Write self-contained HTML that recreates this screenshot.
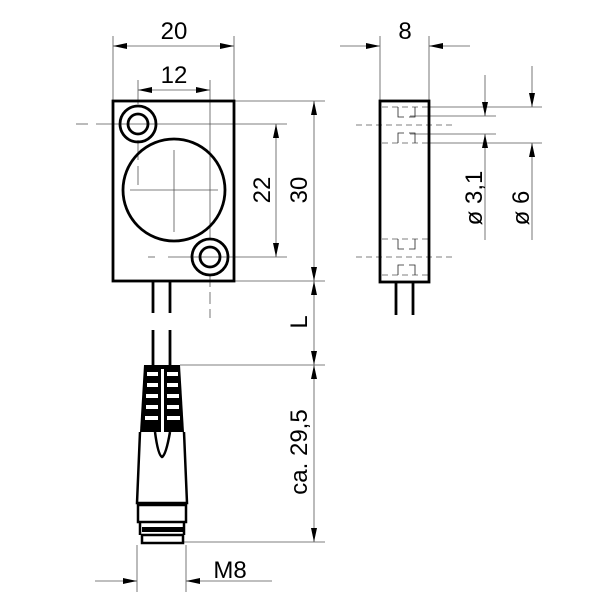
<!DOCTYPE html>
<html><head><style>html,body{margin:0;padding:0;background:#fff}svg{display:block}</style></head><body>
<svg width="600" height="600" viewBox="0 0 600 600" xmlns="http://www.w3.org/2000/svg" font-family="Liberation Sans, sans-serif">
<defs>
<marker id="a" viewBox="0 0 14 6" refX="14" refY="3" markerWidth="14" markerHeight="6" orient="auto-start-reverse" markerUnits="userSpaceOnUse"><path d="M0,0 L14,3 L0,6z" fill="#000"/></marker>
</defs>
<g stroke="#555" stroke-width="0.8" fill="none">
<line x1="113" y1="36" x2="113" y2="101"/><line x1="234" y1="36" x2="234" y2="101"/>
<line x1="138" y1="80" x2="138" y2="104"/><line x1="210" y1="80" x2="210" y2="240"/>
<line x1="210" y1="275" x2="210" y2="318" stroke-dasharray="12,5"/>
<line x1="234" y1="101" x2="325" y2="101"/><line x1="234" y1="281" x2="325" y2="281"/>
<line x1="76" y1="124" x2="88" y2="124"/><line x1="96" y1="124" x2="287" y2="124"/>
<line x1="148" y1="257" x2="155" y2="257"/><line x1="168" y1="257" x2="287" y2="257"/>
<line x1="138" y1="140" x2="138" y2="185" stroke-dasharray="20,6"/>
<line x1="130" y1="190" x2="218" y2="190"/><line x1="174" y1="150" x2="174" y2="232"/>
<line x1="180" y1="365" x2="325" y2="365"/><line x1="183" y1="542" x2="325" y2="542"/>
<line x1="137" y1="545" x2="137" y2="592"/><line x1="186" y1="545" x2="186" y2="592"/>
<line x1="113" y1="46" x2="234" y2="46" marker-start="url(#a)" marker-end="url(#a)"/>
<line x1="138" y1="90" x2="210" y2="90" marker-start="url(#a)" marker-end="url(#a)"/>
<line x1="276" y1="124" x2="276" y2="257" marker-start="url(#a)" marker-end="url(#a)"/>
<line x1="314" y1="101" x2="314" y2="281" marker-start="url(#a)" marker-end="url(#a)"/>
<line x1="314" y1="281" x2="314" y2="365" marker-start="url(#a)" marker-end="url(#a)"/>
<line x1="314" y1="365" x2="314" y2="542" marker-start="url(#a)" marker-end="url(#a)"/>
<line x1="95" y1="581" x2="137" y2="581" marker-end="url(#a)"/>
<line x1="272" y1="581" x2="186" y2="581" marker-end="url(#a)"/>
<line x1="380" y1="36" x2="380" y2="101"/><line x1="429" y1="36" x2="429" y2="101"/>
<line x1="340" y1="46" x2="380" y2="46" marker-end="url(#a)"/>
<line x1="470" y1="46" x2="429" y2="46" marker-end="url(#a)"/>
<line x1="429" y1="107" x2="542" y2="107"/><line x1="429" y1="143" x2="542" y2="143"/>
<line x1="410" y1="116" x2="496" y2="116"/><line x1="410" y1="134" x2="496" y2="134"/>
<line x1="485" y1="75" x2="485" y2="116" marker-end="url(#a)"/>
<line x1="485" y1="240" x2="485" y2="134" marker-end="url(#a)"/>
<line x1="532" y1="66" x2="532" y2="107" marker-end="url(#a)"/>
<line x1="532" y1="240" x2="532" y2="143" marker-end="url(#a)"/>
<g stroke-dasharray="6,4">
<line x1="356" y1="125" x2="452" y2="125"/><line x1="356" y1="257" x2="452" y2="257"/>
<line x1="382" y1="107" x2="428" y2="107"/><line x1="382" y1="143" x2="428" y2="143"/>
<line x1="382" y1="239" x2="428" y2="239"/><line x1="382" y1="275" x2="428" y2="275"/>
</g>
<path d="M398,107v10h6M415,107v10h-6M398,143v-10h6M415,143v-10h-6M398,239v10h6M415,239v10h-6M398,275v-10h6M415,275v-10h-6" stroke="#222"/>
</g>
<g stroke="#000" stroke-width="2.8" fill="none">
<rect x="113" y="101" width="121" height="180"/>
<circle cx="138" cy="124" r="18"/><circle cx="138" cy="124" r="10"/>
<circle cx="210" cy="257" r="18"/><circle cx="210" cy="257" r="10"/>
<circle cx="174" cy="190" r="51"/>
<line x1="153" y1="281" x2="153" y2="313"/><line x1="170" y1="281" x2="170" y2="313"/>
<line x1="153" y1="330" x2="153" y2="365"/><line x1="170" y1="330" x2="170" y2="365"/>
<rect x="380" y="101" width="49" height="181"/>
<line x1="396" y1="282" x2="396" y2="315"/><line x1="413" y1="282" x2="413" y2="315"/>
</g>
<path d="M144,365 L180,365 L184,432 L140,432 Z" fill="#000"/>
<g fill="#fff">
<rect x="147" y="372" width="11" height="4"/><rect x="167" y="372" width="11" height="4"/>
<rect x="147" y="383" width="11" height="4"/><rect x="167" y="383" width="11" height="4"/>
<rect x="146" y="394" width="12" height="4"/><rect x="167" y="394" width="12" height="4"/>
<rect x="146" y="405" width="12" height="4"/><rect x="167" y="405" width="12" height="4"/>
<rect x="145" y="416" width="13" height="4"/><rect x="167" y="416" width="13" height="4"/>
<rect x="161" y="369" width="3" height="64"/>
</g>
<g stroke="#000" stroke-width="2.5" fill="none">
<path d="M140,432 L137,503 L187,503 L184,432"/>
<path d="M155,432 Q158,455 162,457 Q166,455 170,432"/>
<rect x="138" y="505" width="48" height="17"/>
<path d="M140,522 L140,535 M184,522 L184,535"/>
<rect x="142" y="535" width="41" height="8"/>
</g>
<rect x="142" y="527" width="41" height="5" fill="#000"/>
<g font-size="24" fill="#000" text-anchor="middle">
<text x="174" y="39">20</text>
<text x="174" y="83">12</text>
<text x="405" y="39">8</text>
<text x="230" y="578">M8</text>
<text transform="translate(270,190) rotate(-90)">22</text>
<text transform="translate(307,190) rotate(-90)">30</text>
<text transform="translate(307,322) rotate(-90)">L</text>
<text transform="translate(307,452) rotate(-90)">ca.  29,5</text>
<text transform="translate(482,198) rotate(-90)">ø  3,1</text>
<text transform="translate(529,208) rotate(-90)">ø  6</text>
</g>
</svg>
</body></html>
